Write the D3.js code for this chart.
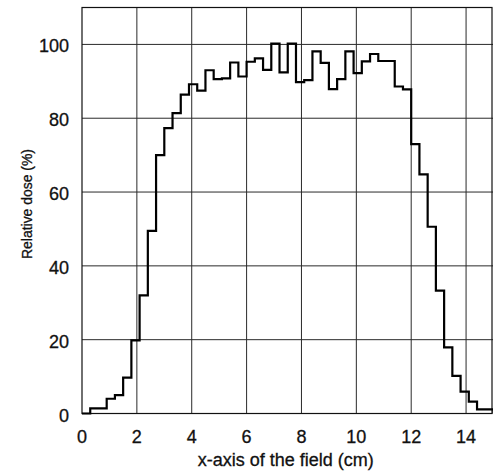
<!DOCTYPE html>
<html lang="en">
<head>
<meta charset="utf-8">
<title>Relative dose profile</title>
<script src="https://cdn.jsdelivr.net/npm/d3@7"></script>
<style>
  html, body { margin: 0; padding: 0; background: #fff; }
  svg { display: block; }
  text { font-family: "Liberation Sans", Arial, sans-serif; fill: #111; stroke: #111; stroke-width: 0.3; }
</style>
</head>
<body>
<script>
// bin left edges (cm) and the dose measured in each bin (%)
const binStart = [
  0.0, 0.3, 0.6, 0.9, 1.2, 1.5, 1.8, 2.1, 2.4, 2.7,
  3.0, 3.3, 3.6, 3.9, 4.2, 4.5, 4.8, 5.1, 5.4, 5.7,
  6.0, 6.3, 6.6, 6.9, 7.2, 7.5, 7.8, 8.1, 8.4, 8.7,
  9.0, 9.3, 9.6, 9.9, 10.2, 10.5, 10.8, 11.1, 11.4, 11.7,
  12.0, 12.3, 12.6, 12.9, 13.2, 13.5, 13.8, 14.1, 14.4, 14.7
];
const dose = [
  0, 1.4, 1.4, 4, 5, 9.7, 19.8, 32, 49.5, 70,
  77.3, 81.4, 86.4, 89.2, 87.5, 93, 90.6, 90.8, 95.1, 91.3,
  95.3, 96.2, 93.1, 100.2, 92.4, 100.2, 89.8, 90.3, 98.1, 95,
  87.9, 90.6, 98.1, 92.2, 95.4, 97.4, 95.5, 95.5, 88.6, 87.8,
  73, 64.8, 50.6, 33.3, 17.9, 10.2, 5.9, 3.2, 1.1, 1.1
];
const fieldEnd = 15;

const xTicks = [0, 2, 4, 6, 8, 10, 12, 14];
const yTicks = [0, 20, 40, 60, 80, 100];

const W = 493, H = 471;
const pLeft = 82, pRight = 493.5, pTop = 7.5, pBottom = 413.5;

const svg = d3.select("body").append("svg")
  .attr("width", W)
  .attr("height", H);

const x = d3.scaleLinear().domain([0, 15]).range([pLeft, pRight]);
const y = d3.scaleLinear().domain([0, 110]).range([pBottom, pTop]);

// grid lines
svg.append("g")
  .selectAll("line")
  .data(xTicks.slice(1))
  .join("line")
  .attr("x1", d => x(d)).attr("x2", d => x(d))
  .attr("y1", pTop).attr("y2", pBottom)
  .attr("stroke", "#2a2a2a").attr("stroke-width", 1);

svg.append("g")
  .selectAll("line")
  .data(yTicks.slice(1))
  .join("line")
  .attr("x1", pLeft).attr("x2", pRight)
  .attr("y1", d => y(d)).attr("y2", d => y(d))
  .attr("stroke", "#2a2a2a").attr("stroke-width", 1);

// frame
svg.append("rect")
  .attr("x", pLeft).attr("y", pTop)
  .attr("width", pRight - pLeft - 1.5).attr("height", pBottom - pTop)
  .attr("fill", "none")
  .attr("stroke", "#111").attr("stroke-width", 1.2);

// tick labels
svg.append("g")
  .selectAll("text")
  .data(xTicks)
  .join("text")
  .attr("x", d => x(d))
  .attr("y", 443)
  .attr("text-anchor", "middle")
  .attr("font-size", 18)
  .text(d => d);

svg.append("g")
  .selectAll("text")
  .data(yTicks)
  .join("text")
  .attr("x", 69)
  .attr("y", d => y(d) + 8)
  .attr("text-anchor", "end")
  .attr("font-size", 18)
  .text(d => d);

// axis titles
svg.append("text")
  .attr("x", (pLeft + pRight) / 2 - 2)
  .attr("y", 466)
  .attr("text-anchor", "middle")
  .attr("font-size", 18)
  .text("x-axis of the field (cm)");

svg.append("text")
  .attr("transform", "translate(32,204) rotate(-90)")
  .attr("text-anchor", "middle")
  .attr("font-size", 15.5)
  .attr("textLength", 110)
  .attr("lengthAdjust", "spacingAndGlyphs")
  .text("Relative dose (%)");

// the step profile
const pts = binStart.map((s, i) => [s, dose[i]]);
pts.push([fieldEnd, dose[dose.length - 1]]);
pts.push([fieldEnd, 0]);

const step = d3.line()
  .x(d => x(d[0]))
  .y(d => y(d[1]))
  .curve(d3.curveStepAfter);

svg.append("path")
  .datum(pts)
  .attr("d", step)
  .attr("fill", "none")
  .attr("stroke", "#000")
  .attr("stroke-width", 2.2)
  .attr("stroke-linejoin", "miter");
</script>
</body>
</html>
